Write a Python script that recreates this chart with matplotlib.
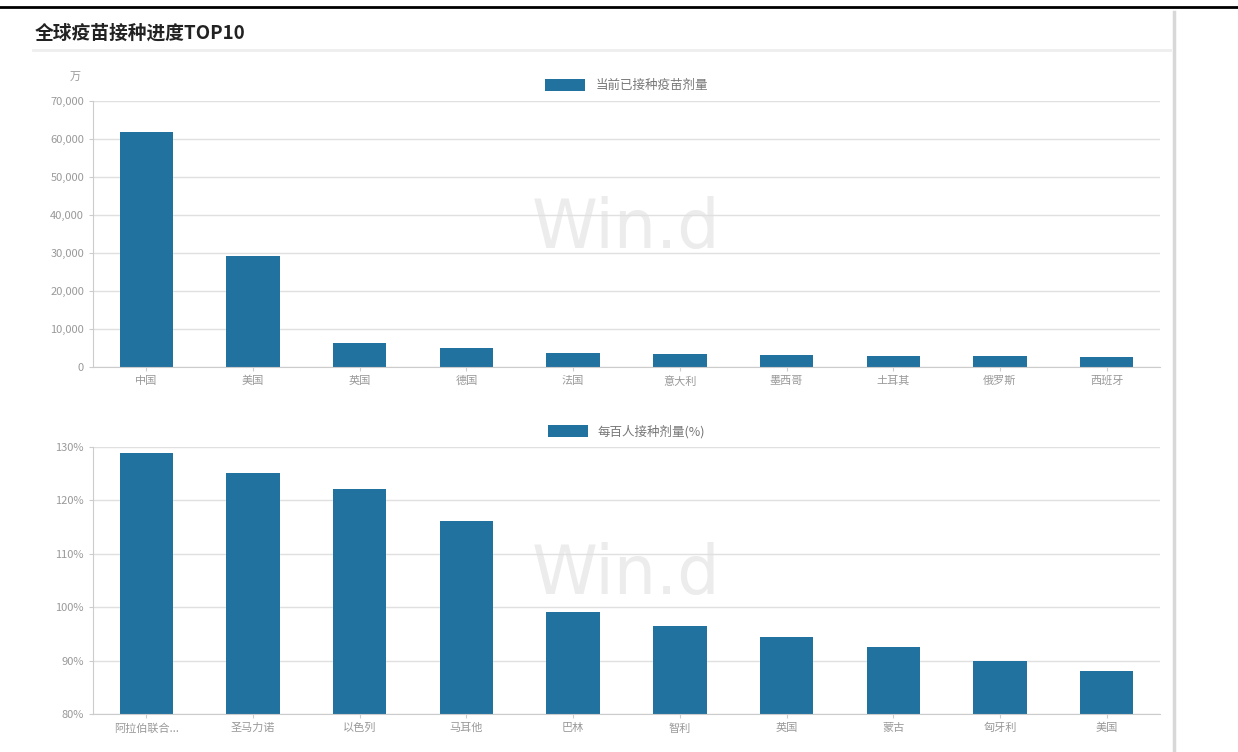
import matplotlib.pyplot as plt
from matplotlib.ticker import FuncFormatter, MultipleLocator
from matplotlib.lines import Line2D

plt.rcParams['font.family'] = ['Noto Sans CJK SC', 'DejaVu Sans']

# data
top_countries = ['中国', '美国', '英国', '德国', '法国', '意大利', '墨西哥', '土耳其', '俄罗斯', '西班牙']
top_doses = [61800, 29200, 6300, 5000, 3700, 3400, 3150, 2900, 2900, 2650]  # 万剂

bot_countries = ['阿拉伯联合...', '圣马力诺', '以色列', '马耳他', '巴林', '智利', '英国', '蒙古', '匈牙利', '美国']
bot_per100 = [128.9, 125.1, 122.1, 116.1, 99.1, 96.5, 94.4, 92.5, 89.9, 88.0]  # %

BAR = '#21729f'
GRID = '#e0e0e0'
TICK = '#999999'

fig = plt.figure(figsize=(12.38, 7.52), dpi=100)

# page decorations
fig.add_artist(Line2D([0, 1], [1 - 7 / 752, 1 - 7 / 752], color='black', lw=2))
fig.add_artist(Line2D([33 / 1238, 1170 / 1238], [1 - 50 / 752] * 2, color='#eeeeee', lw=2))
fig.add_artist(Line2D([1174 / 1238] * 2, [0, 1 - 12 / 752], color='#d8d8d8', lw=2.5))
fig.text(35 / 1238, 1 - 33 / 752, '全球疫苗接种进度TOP10', fontsize=13.5, fontweight='bold',
         va='center', ha='left', color='#222222')


def style(ax, labels):
    for s in ['top', 'right']:
        ax.spines[s].set_visible(False)
    ax.spines['left'].set_color('#cccccc')
    ax.spines['bottom'].set_color('#cccccc')
    ax.grid(axis='y', color=GRID, lw=1)
    ax.set_axisbelow(True)
    ax.set_xlim(-0.5, len(labels) - 0.5)
    ax.set_xticks(range(len(labels)))
    ax.set_xticklabels(labels)
    ax.tick_params(axis='both', colors='#cccccc', labelcolor=TICK, labelsize=8, length=3)
    ax.text(0.5, 0.52, 'Win.d', transform=ax.transAxes, fontsize=48, color='#ececec',
            ha='center', va='center', zorder=0, family='DejaVu Sans')


ax1 = fig.add_axes([93 / 1238, 1 - 367 / 752, 1067 / 1238, 266 / 752])
ax1.bar(range(len(top_countries)), top_doses, width=0.5, color=BAR, label='当前已接种疫苗剂量')
style(ax1, top_countries)
ax1.set_ylim(0, 70000)
ax1.yaxis.set_major_locator(MultipleLocator(10000))
ax1.yaxis.set_major_formatter(FuncFormatter(lambda v, p: f'{int(v):,}'))
ax1.text(-0.017, 1.08, '万', transform=ax1.transAxes, fontsize=8, color=TICK, ha='center')
ax1.legend(loc='lower center', bbox_to_anchor=(0.5, 1.0), frameon=False, fontsize=9,
           handlelength=3.2, handleheight=1.0, labelcolor='#777777', borderaxespad=0.3)

ax2 = fig.add_axes([93 / 1238, 1 - 714 / 752, 1067 / 1238, 267 / 752])
ax2.bar(range(len(bot_countries)), bot_per100, width=0.5, color=BAR, label='每百人接种剂量(%)')
style(ax2, bot_countries)
ax2.set_ylim(80, 130)
ax2.yaxis.set_major_locator(MultipleLocator(10))
ax2.yaxis.set_major_formatter(FuncFormatter(lambda v, p: f'{int(v)}%'))
ax2.legend(loc='lower center', bbox_to_anchor=(0.5, 1.0), frameon=False, fontsize=9,
           handlelength=3.2, handleheight=1.0, labelcolor='#777777', borderaxespad=0.3)

fig.savefig('out.png', dpi=100)
